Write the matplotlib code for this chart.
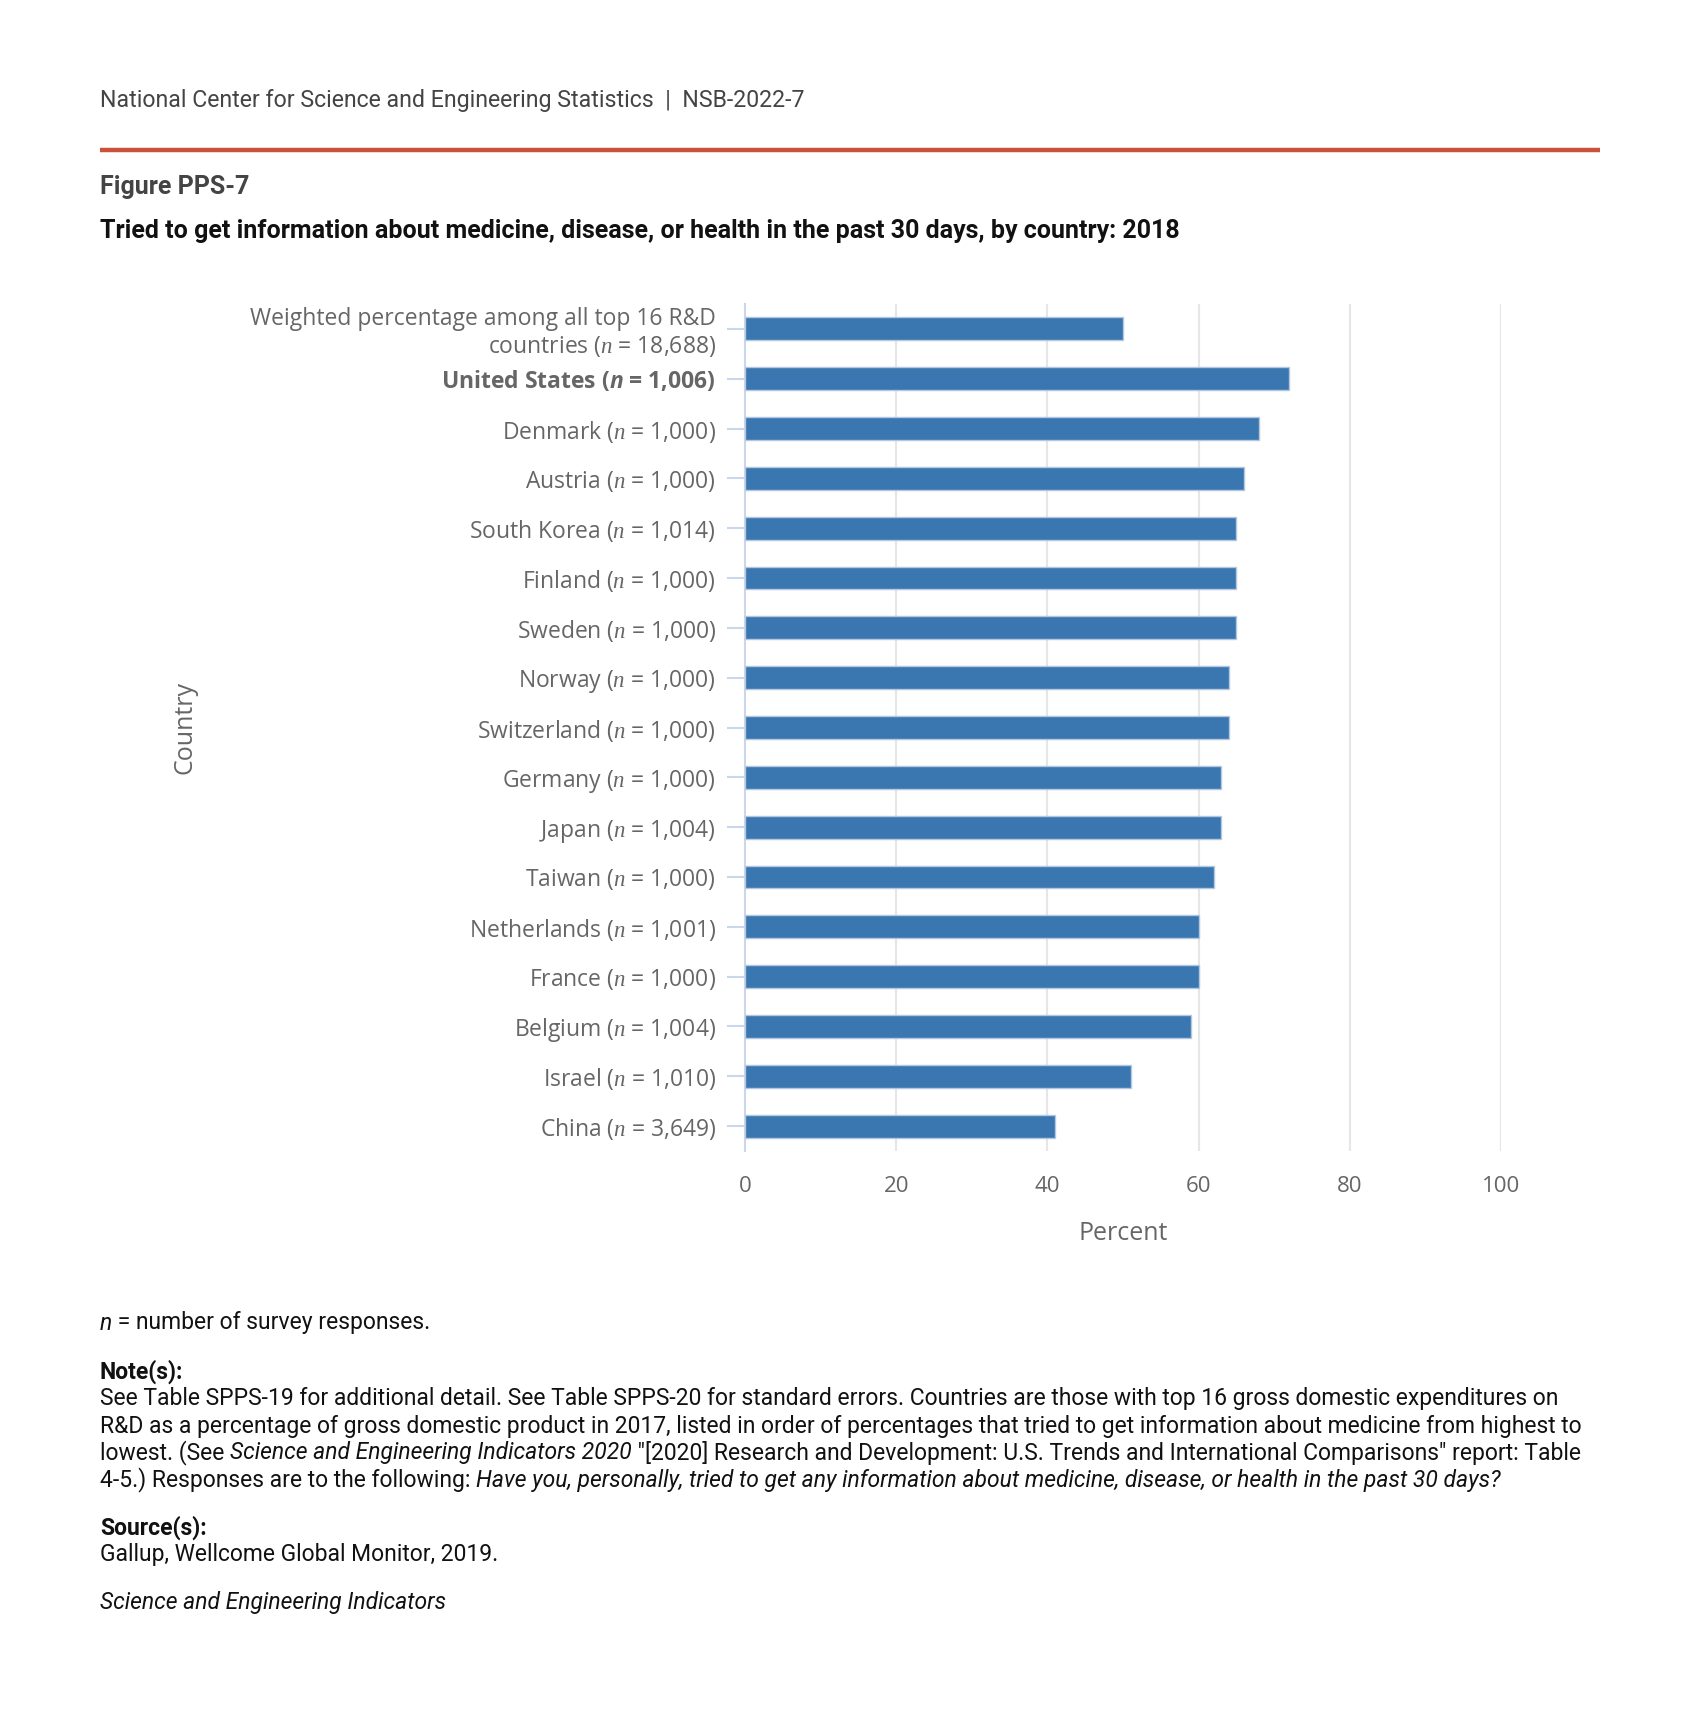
import matplotlib
matplotlib.use("Agg")
import matplotlib.pyplot as plt

# ---- data ----
categories = ["Weighted percentage among all top 16 R&D\ncountries", "United States", "Denmark", "Austria",
              "South Korea", "Finland", "Sweden", "Norway", "Switzerland", "Germany", "Japan",
              "Taiwan", "Netherlands", "France", "Belgium", "Israel", "China"]
n_values = ["18,688", "1,006", "1,000", "1,000", "1,014", "1,000", "1,000", "1,000", "1,000",
            "1,000", "1,004", "1,000", "1,001", "1,000", "1,004", "1,010", "3,649"]
percents = [50, 72, 68, 66, 65, 65, 65, 64, 64, 63, 63, 62, 60, 60, 59, 51, 41]
x_ticks = [0, 20, 40, 60, 80, 100]

plt.rcParams['mathtext.fontset'] = 'custom'
plt.rcParams['mathtext.it'] = 'Liberation Serif:italic'
plt.rcParams['mathtext.bf'] = 'Open Sans:bold:italic'
plt.rcParams['mathtext.rm'] = 'Open Sans'

W, H = 1699, 1723
fig = plt.figure(figsize=(W / 100, H / 100), dpi=100)
fig.patch.set_facecolor('white')

def fx(px):
    return px / W

def fy(py):
    return 1 - py / H

# ---- header ----
HEAD = 'Roboto'
fig.text(fx(100), fy(101), "National Center for Science and Engineering Statistics  |  NSB-2022-7",
         family=HEAD, fontsize=16.7, color='#444444', va='center', ha='left')
fig.add_artist(plt.Line2D([fx(100), fx(1600)], [fy(149.5), fy(149.5)], color='#c9523d', lw=3.2,
                          solid_capstyle='butt'))
fig.text(fx(100), fy(187), "Figure PPS-7", family=HEAD, fontsize=18, fontweight='bold',
         color='#444444', va='center', ha='left')
fig.text(fx(100), fy(231), "Tried to get information about medicine, disease, or health in the past 30 days, by country: 2018",
         family=HEAD, fontsize=18, fontweight='bold', color='#111111', va='center', ha='left')

# ---- chart ----
left, right, top, bottom = 745, 1501, 304, 1151
ax = fig.add_axes([fx(left), fy(bottom), (right - left) / W, (bottom - top) / H])
y = list(range(len(categories)))
ax.barh(y, percents, height=0.46, color='#3a77b0', edgecolor='#b3c7e0', linewidth=1.0, zorder=3)
ax.set_xlim(0, 100)
ax.set_ylim(len(categories) - 0.5, -0.5)
ax.set_xticks(x_ticks)
ax.set_xticklabels([str(t) for t in x_ticks], family='Open Sans', fontsize=16, color='#666666')

labels = []
for i, (c, n) in enumerate(zip(categories, n_values)):
    if i == 1:
        labels.append(c + r" ($\mathbf{n}$ = " + n + ")")
    else:
        labels.append(c + r" ($n$ = " + n + ")")
ax.set_yticks(y)
ax.set_yticklabels(labels, family='Open Sans', fontsize=16.5, color='#666666', linespacing=1.15)
ax.get_yticklabels()[1].set_fontweight('bold')

ax.tick_params(axis='y', length=13, width=1.5, color='#ccd6eb', pad=8)
ax.tick_params(axis='x', length=0, pad=18)
for s in ['top', 'right', 'bottom']:
    ax.spines[s].set_visible(False)
ax.spines['left'].set_color('#ccd6eb')
ax.spines['left'].set_linewidth(1.5)
ax.grid(axis='x', color='#e6e6e6', linewidth=1.5, zorder=0)
ax.set_axisbelow(True)
ax.xaxis.get_gridlines()[0].set_visible(False)
ax.set_facecolor('white')

fig.text(fx(1123), fy(1233), "Percent", family='Open Sans', fontsize=18, color='#666666',
         ha='center', va='center')
fig.text(fx(185), fy(727), "Country", family='Open Sans', fontsize=18, color='#666666',
         ha='center', va='center', rotation=90)

# ---- footer with mixed styles ----
renderer = fig.canvas.get_renderer()
FS = 16.5

def seg_width(s, **kw):
    t1 = fig.text(0, 0, "|" + s + "|", **kw)
    t2 = fig.text(0, 0, "||", **kw)
    w = t1.get_window_extent(renderer).width - t2.get_window_extent(renderer).width
    t1.remove(); t2.remove()
    return w

def rich_line(py, segs):
    x = 100
    for s, style in segs:
        kw = dict(family=HEAD, fontsize=FS, color='#111111')
        if style == 'i':
            kw['style'] = 'italic'
        elif style == 'b':
            kw['fontweight'] = 'bold'
        fig.text(fx(x), fy(py), s, va='center', ha='left', **kw)
        x += seg_width(s, **kw)

rich_line(1323, [("n", 'i'), (" = number of survey responses.", 'r')])
rich_line(1372, [("Note(s):", 'b')])
rich_line(1399, [("See Table SPPS-19 for additional detail. See Table SPPS-20 for standard errors. Countries are those with top 16 gross domestic expenditures on", 'r')])
rich_line(1426, [("R&D as a percentage of gross domestic product in 2017, listed in order of percentages that tried to get information about medicine from highest to", 'r')])
rich_line(1453, [("lowest. (See ", 'r'), ("Science and Engineering Indicators 2020", 'i'),
                 (" \"[2020] Research and Development: U.S. Trends and International Comparisons\" report: Table", 'r')])
rich_line(1480, [("4-5.) Responses are to the following: ", 'r'),
                 ("Have you, personally, tried to get any information about medicine, disease, or health in the past 30 days?", 'i')])
rich_line(1528, [("Source(s):", 'b')])
rich_line(1555, [("Gallup, Wellcome Global Monitor, 2019.", 'r')])
rich_line(1603, [("Science and Engineering Indicators", 'i')])

fig.savefig("out.png", dpi=100, facecolor='white')
